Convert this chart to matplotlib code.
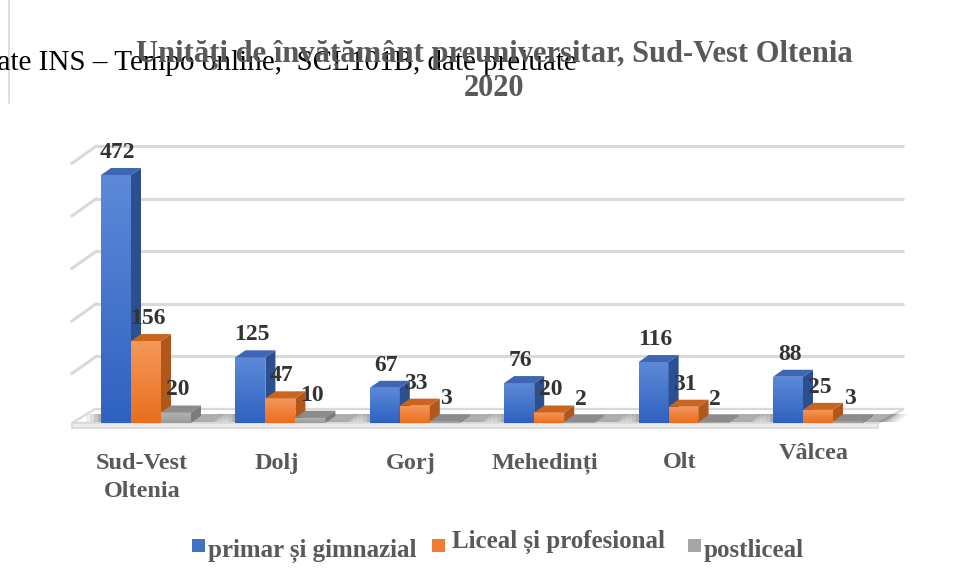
import matplotlib
matplotlib.use("Agg")
import matplotlib.pyplot as plt
import numpy as np
from matplotlib.patches import Polygon, Rectangle
from matplotlib.colors import LinearSegmentedColormap

# ---------------- data ----------------
categories = ["Sud-Vest\nOltenia", "Dolj", "Gorj", "Mehedinți", "Olt", "Vâlcea"]
series_names = ["primar și gimnazial", "Liceal și profesional", "postliceal"]
primar = [472, 125, 67, 76, 116, 88]
liceal = [156, 47, 33, 20, 31, 25]
postliceal = [20, 10, 3, 2, 2, 3]
gridline_values = [0, 100, 200, 300, 400, 500]
title_lines = ["Unități de învățământ preuniversitar, Sud-Vest Oltenia", "2020"]
source_text = "date INS – Tempo online,  SCL101B, date preluate"

# ---------------- style ----------------
FONT = "Liberation Serif"
W_PX, H_PX = 958, 580
PX = 134.4          # pixels per category step
PY = 0.5254         # pixels per value unit
X0_PX = 146.0       # pixel x of first category centre
BASE_PX = 423.0     # pixel y (from top) of value 0 at the front
W = 30 / PX         # bar width
DX = 10 / PX        # bar depth, x
DY = 7 / PY         # bar depth, y
FLOOR_BACK = 14 / PY

front_cols = [("#5d89d8", "#2f62c0"), ("#f5985a", "#e96e1e"), ("#b3b3b3", "#9c9c9c")]
side_cols = ["#2c4f8f", "#b0571b", "#7b7b7b"]
top_cols = ["#3e66b4", "#c9651f", "#8c8c8c"]
legend_cols = ["#4472c4", "#ed7d31", "#a5a5a5"]
text_col = "#595959"
label_col = "#333333"

fig = plt.figure(figsize=(W_PX / 100, H_PX / 100), dpi=100)
ax = fig.add_axes([0, 0, 1, 1])
ax.set_xlim(-X0_PX / PX, (W_PX - X0_PX) / PX)
ax.set_ylim(-(H_PX - BASE_PX) / PY, BASE_PX / PY)
ax.set_axis_off()


def px2x(px):
    return (px - X0_PX) / PX


def px2v(py):
    return (BASE_PX - py) / PY


# ---------------- back gridlines & left wall ----------------
back_left, back_right = px2x(96), px2x(904)
wall_dx, wall_dy = -24 / PX, -17 / PY
for g in gridline_values[1:]:
    vb = FLOOR_BACK + g
    ax.plot([back_left, back_right], [vb, vb], color="#d9d9d9", lw=2.2, zorder=1,
            solid_capstyle="butt")
    ax.plot([back_left, back_left + wall_dx], [vb, vb + wall_dy], color="#d9d9d9",
            lw=2.2, zorder=1)

# ---------------- floor ----------------
fl = [(px2x(72), 0), (px2x(878), 0), (px2x(904), FLOOR_BACK), (px2x(95), FLOOR_BACK)]
ax.add_patch(Polygon(fl, closed=True, facecolor="#ffffff", edgecolor="#d9d9d9",
                     lw=1.6, zorder=2))
ax.add_patch(Polygon([(px2x(72), 0), (px2x(878), 0), (px2x(878), -5 / PY),
                      (px2x(72), -5 / PY)], closed=True, facecolor="#ececec",
                     edgecolor="#d9d9d9", lw=1.2, zorder=2))

# soft shadows on the floor
for i in range(len(categories)):
    c = i
    for k, a in enumerate([0.08, 0.10, 0.14, 0.18]):
        grow = (3 - k) * 4 / PX
        ax.add_patch(Polygon([(c - 1.6 * W - grow, 1 / PY), (c + 1.6 * W + grow + 2 * DX, 1 / PY),
                              (c + 1.6 * W + grow + 3 * DX, 9 / PY), (c - 1.6 * W - grow, 9 / PY)],
                             closed=True, facecolor="#404040", edgecolor="none",
                             alpha=a, zorder=2.5))

grad = np.linspace(1, 0, 64).reshape(-1, 1)


def draw_bar(x0, v, s, z):
    cmap = LinearSegmentedColormap.from_list("g", [front_cols[s][1], front_cols[s][0]])
    rect = Rectangle((x0, 0), W, v, facecolor="none", edgecolor="none", zorder=z)
    ax.add_patch(rect)
    im = ax.imshow(grad, cmap=cmap, extent=(x0, x0 + W, 0, v), aspect="auto",
                   origin="upper", zorder=z, interpolation="bilinear")
    im.set_clip_path(rect)
    side = [(x0 + W, 0), (x0 + W + DX, DY), (x0 + W + DX, v + DY), (x0 + W, v)]
    ax.add_patch(Polygon(side, closed=True, facecolor=side_cols[s], edgecolor="none", zorder=z))
    top = [(x0, v), (x0 + W, v), (x0 + W + DX, v + DY), (x0 + DX, v + DY)]
    ax.add_patch(Polygon(top, closed=True, facecolor=top_cols[s], edgecolor="none", zorder=z))


series = [primar, liceal, postliceal]
z = 3
for i in range(len(categories)):
    for s, vals in enumerate(series):
        x0 = i + (s - 1.5) * W
        draw_bar(x0, vals[i], s, z)
        z += 0.01

for i in range(len(categories)):
    for s, vals in enumerate(series):
        x0 = i + (s - 1.5) * W
        ax.text(x0 + W / 2 + 1.5 / PX, vals[i] + DY + 10 / PY, str(vals[i]),
                ha="center", va="baseline", fontsize=17, fontweight="bold",
                color=label_col, family=FONT, zorder=20)

# ---------------- category labels ----------------
label_base = [469, 469, 469, 468, 468, 459]
for i, cat in enumerate(categories):
    for j, line in enumerate(cat.split("\n")):
        ax.text(i - 0.03, px2v(label_base[i] + 28 * j), line, ha="center", va="baseline",
                fontsize=17.5, fontweight="bold", color=text_col, family=FONT, zorder=20)

# ---------------- title & source ----------------
fig.text(577 / W_PX, 1 - 70 / H_PX, source_text, ha="right", va="baseline",
         fontsize=21, color="#000000", family=FONT, zorder=30)
for j, (line, base) in enumerate(zip(title_lines, [62, 96])):
    fig.text(494 / W_PX, 1 - base / H_PX, line, ha="center", va="baseline",
             fontsize=22, fontweight="bold", color=text_col, family=FONT, zorder=31)

# thin frame line at left
fig.add_artist(plt.Line2D([9 / W_PX, 9 / W_PX], [1, 1 - 103 / H_PX], color="#d9d9d9",
                          lw=1.2, transform=fig.transFigure))

# ---------------- legend ----------------
leg_sq_x = [192, 432, 688]
leg_txt_x = [208, 452, 704]
leg_base = [557, 548, 557]
for s, name in enumerate(series_names):
    fig.add_artist(Rectangle((leg_sq_x[s] / W_PX, 1 - 552 / H_PX), 13 / W_PX, 13 / H_PX,
                             transform=fig.transFigure, facecolor=legend_cols[s],
                             edgecolor="none"))
    fig.text(leg_txt_x[s] / W_PX, 1 - leg_base[s] / H_PX, name, ha="left", va="baseline",
             fontsize=18, fontweight="bold", color=text_col, family=FONT)

fig.savefig("out.png", dpi=100)
